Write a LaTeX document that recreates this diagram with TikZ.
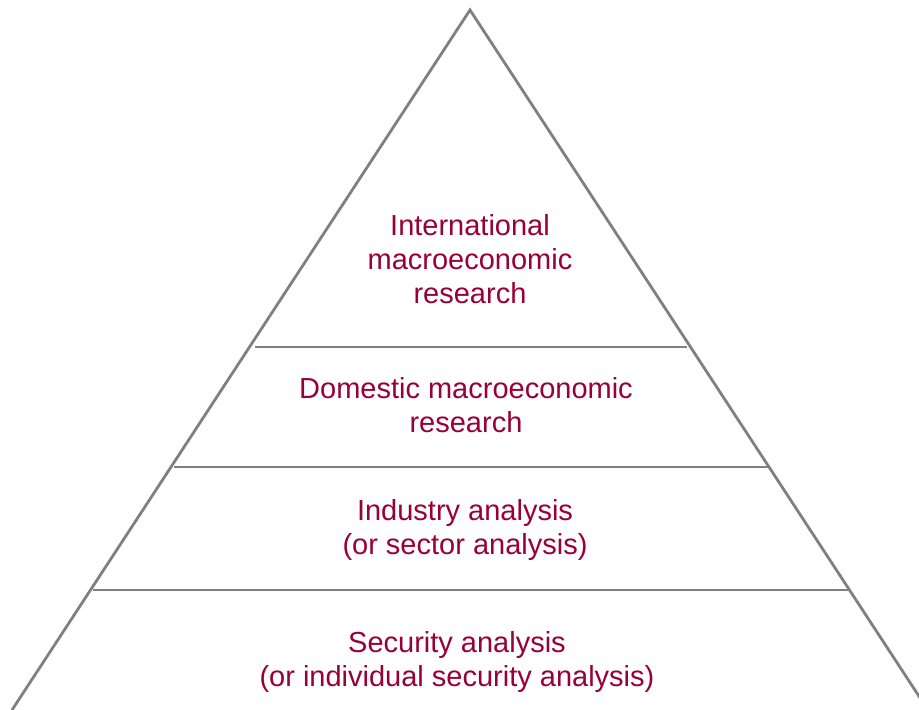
\documentclass[tikz,border=0pt]{standalone}
\usepackage{fontspec}
\setmainfont{Liberation Sans}
\definecolor{linegray}{RGB}{128,128,128}
\definecolor{textred}{RGB}{153,0,51}
\begin{document}
\begin{tikzpicture}[x=1pt,y=-1pt,
  edge/.style={draw=linegray,line width=2.8pt},
  label/.style={text=textred,font=\fontsize{29}{34}\selectfont,align=center,inner sep=0pt}]
\useasboundingbox (0,0) rectangle (919,710);
\clip (0,0) rectangle (919,710);
\coordinate (apex) at (470,10);
\coordinate (bl) at (12,710);
\coordinate (br) at (928,710);
\draw[edge,line join=miter] (bl) -- (apex) -- (br);
\coordinate (l1a) at (255,347); \coordinate (l1b) at (687,347);
\coordinate (l2a) at (174,467); \coordinate (l2b) at (768,467);
\coordinate (l3a) at (93,590);  \coordinate (l3b) at (849,590);
\draw[edge] (l1a) -- (l1b);
\draw[edge] (l2a) -- (l2b);
\draw[edge] (l3a) -- (l3b);
\node[label] (t1) at (470,259) {International\\macroeconomic\\research};
\node[label] (t2) at (466,405) {Domestic macroeconomic\\research};
\node[label] (t3) at (465,530) {Industry analysis\\(or sector analysis)};
\node[label] (t4) at (457,662) {Security analysis\\(or individual security analysis)};
\end{tikzpicture}
\end{document}
